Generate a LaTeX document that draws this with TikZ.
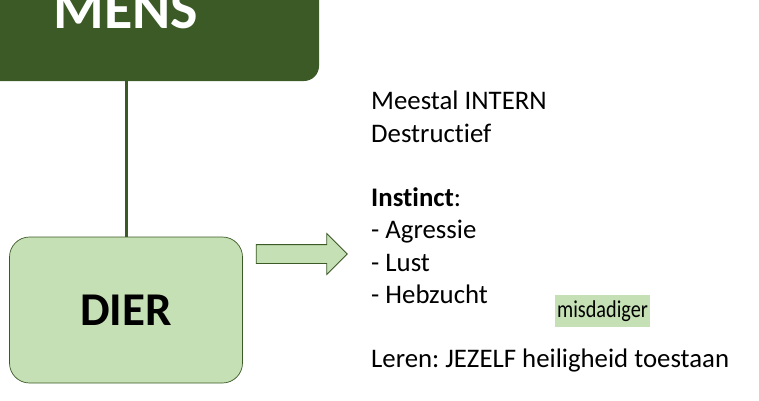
\documentclass[tikz,border=0pt]{standalone}
\usepackage{fontspec}
\setmainfont[Ligatures={NoCommon,NoDiscretionary,NoRare}]{Carlito}
\usetikzlibrary{positioning, shapes.arrows}
\definecolor{donkergroen}{HTML}{3B5A26}
\definecolor{lichtgroen}{HTML}{C5E0B4}
\frenchspacing

\begin{document}
\begin{tikzpicture}[x=1pt,y=-1pt,
  blok/.style={rectangle,rounded corners=#1,inner sep=0pt},
  pijlvorm/.style={single arrow,draw=donkergroen,fill=lichtgroen,line width=.8pt,
    minimum height=91pt,inner xsep=0pt,inner ysep=9pt,single arrow head extend=11pt}]
\useasboundingbox (0,0) rectangle (759,400);
% blokken
\node[blok=15pt,fill=donkergroen,text=white,minimum width=386pt,minimum height=142pt,
  font=\bfseries\fontsize{58}{60}\selectfont] (mens) at (126,10) {MENS};
\node[blok=20pt,fill=lichtgroen,draw=donkergroen,line width=.7pt,minimum width=233pt,
  minimum height=146pt,font=\bfseries\fontsize{47}{50}\selectfont] (dier) at (126,310) {DIER};
\draw[donkergroen,line width=3pt] (mens.south) -- (dier.north);
% pijl
\node[pijlvorm] (pijl) at (297,254) {};
% tekst
\node[anchor=north west,inner sep=0pt,align=left,
  font=\fontsize{26.8}{32.25}\selectfont] (tekst) at (371,91)
  {Meestal INTERN\\ Destructief\\[32.25pt]
   \textbf{Instinct}:\\ - Agressie\\ - Lust\\ - Hebzucht\\[32.25pt]
   Leren: JEZELF heiligheid toestaan};
\node[fill=lichtgroen,minimum width=95pt,minimum height=32pt,inner sep=0pt,
  font=\fontsize{22}{24}\selectfont] (misdadiger) at (602.5,311) {\scalebox{0.92}[1.1]{misdadiger}};
\end{tikzpicture}
\end{document}
